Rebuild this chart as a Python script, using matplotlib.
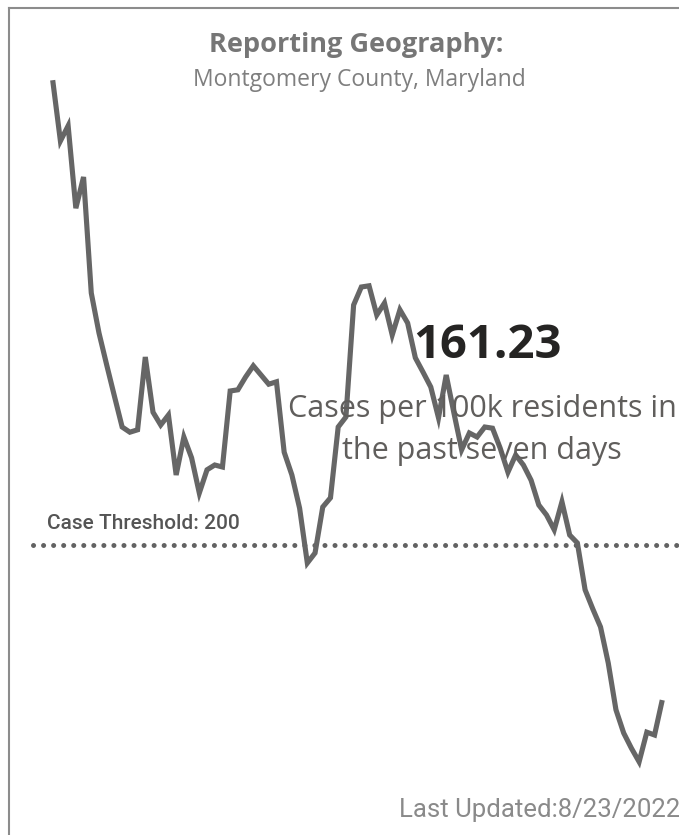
import matplotlib
matplotlib.use("Agg")
import matplotlib.pyplot as plt
from matplotlib.lines import Line2D

# 7-day case rate per 100k, one value per day (oldest first)
days = list(range(80))
case_rate = [
    316.2, 301.0, 304.8, 284.2, 292.0, 263.0, 253.0, 245.0, 237.2, 229.5,
    228.2, 228.8, 247.0, 233.2, 230.0, 232.5, 217.5, 227.0, 221.8, 213.0,
    218.8, 220.0, 219.5, 238.5, 238.8, 242.0, 244.8, 242.5, 240.2, 240.8,
    223.2, 217.5, 209.2, 195.5, 198.0, 209.5, 211.8, 229.5, 232.0, 260.0,
    264.5, 264.8, 257.5, 260.5, 252.5, 258.8, 255.5, 246.8, 243.2, 239.5,
    231.8, 242.5, 233.0, 223.8, 228.0, 227.0, 229.5, 229.2, 224.2, 218.2,
    222.5, 220.0, 216.2, 210.0, 207.5, 203.8, 210.8, 202.5, 200.5, 188.8,
    184.0, 179.5, 170.5, 158.8, 153.0, 149.2, 145.8, 153.2, 152.5, 161.23,
]
threshold = 200
latest = "161.23"
title = "Reporting Geography:"
geography = "Montgomery County, Maryland"
caption_lines = ["Cases per 100k residents in", "the past seven days"]
threshold_label = "Case Threshold: 200"
updated = "Last Updated:8/23/2022"

W, H = 679, 835
fig = plt.figure(figsize=(W / 100, H / 100), dpi=100)
ax = fig.add_axes([0, 0, 1, 1])
ax.axis("off")

# map days / values so the trace sits where it does in the panel
ax.set_xlim(-6.83, 81.17)
ax.set_ylim(127.5, 336.25)

ax.plot([-2.55, 81.17], [threshold, threshold], color="#626262", lw=3.6,
        linestyle=(0, (0.01, 2.0)), dash_capstyle="round", zorder=1)
ax.plot(days, case_rate, color="#666666", lw=3.7, solid_joinstyle="miter",
        solid_capstyle="butt", zorder=2)


def fx(px):
    return px / W


def fy(py):
    return 1 - py / H


font = ["Open Sans", "DejaVu Sans"]
narrow = ["Roboto", "DejaVu Sans"]
ax.text(fx(356), fy(52), title, transform=ax.transAxes, ha="center",
        va="baseline", fontsize=19.5, fontweight="bold", color="#767676",
        family=font)
ax.text(fx(359), fy(86), geography, transform=ax.transAxes, ha="center",
        va="baseline", fontsize=16.5, color="#7f7f7f", family=font)
ax.text(fx(487), fy(358), latest, transform=ax.transAxes, ha="center",
        va="baseline", fontsize=34, fontweight="bold", color="#252423",
        family=font, zorder=3)
for line, base in zip(caption_lines, [417, 459]):
    ax.text(fx(482), fy(base), line, transform=ax.transAxes, ha="center",
            va="baseline", fontsize=22, color="#605e5c", family=font,
            zorder=3)
ax.text(fx(47), fy(529), threshold_label, transform=ax.transAxes, ha="left",
        va="baseline", fontsize=15, color="#555555", family=narrow,
        fontweight="medium")
ax.text(fx(680), fy(817), updated, transform=ax.transAxes, ha="right",
        va="baseline", fontsize=18.5, color="#8a8a8a", family=narrow)

# panel border (top and left edges visible)
fig.add_artist(Line2D([fx(9), 1], [fy(8), fy(8)], color="#8c8c8c", lw=1.5))
fig.add_artist(Line2D([fx(9), fx(9)], [fy(8), 0], color="#8c8c8c", lw=1.5))

fig.savefig("out.png", dpi=100, facecolor="white")
